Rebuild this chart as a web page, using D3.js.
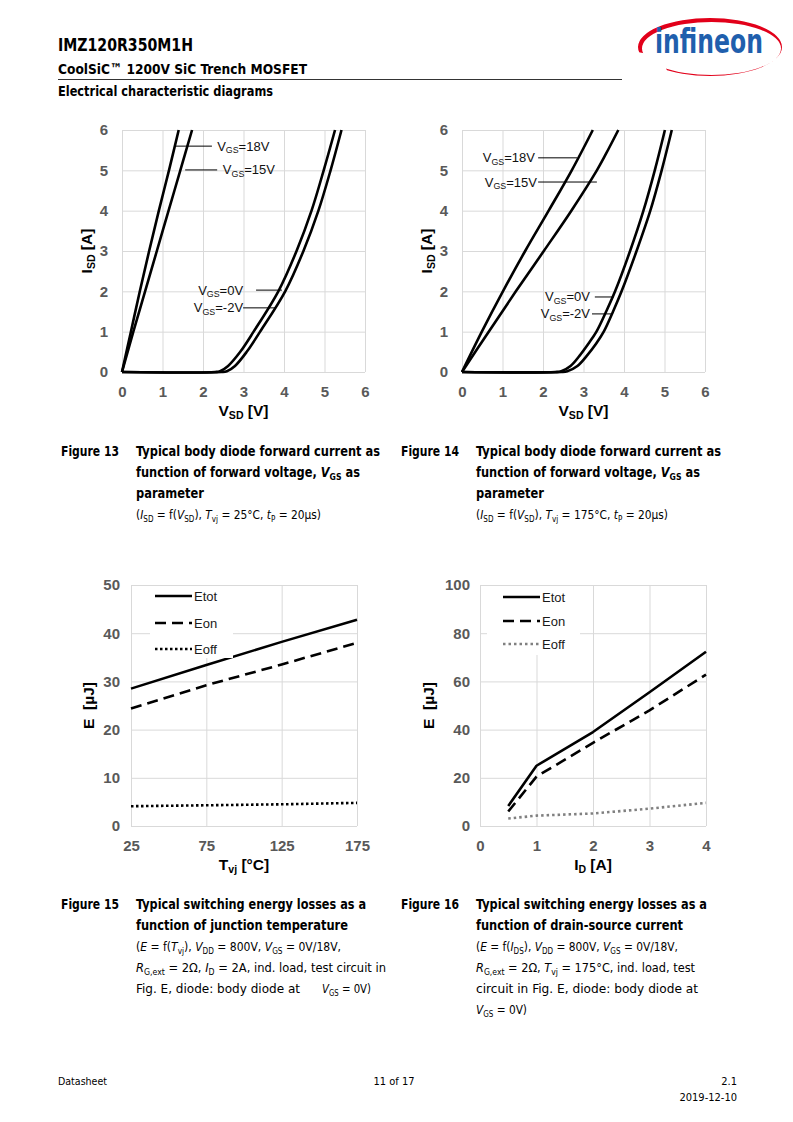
<!DOCTYPE html>
<html>
<head>
<meta charset="utf-8">
<script src="https://cdn.jsdelivr.net/npm/d3@7"></script>
<style>
body{margin:0;background:#fff}
svg{display:block}
text{white-space:pre}
</style>
</head>
<body>
<div id="page"></div>
<script>
// ---- data ----
// Figure 13 / 14 : I_SD vs V_SD, points are [V_SD, I_SD]
var vsdTicks = [0,1,2,3,4,5,6];
var isdTicks = [0,1,2,3,4,5,6];
var f13_vgs18 = [[0,0],[0.22,1],[0.44,2],[0.67,3],[0.91,4],[1.16,5],[1.4,6]];
var f13_vgs15 = [[0,0],[0.28,1],[0.57,2],[0.86,3],[1.15,4],[1.44,5],[1.73,6]];
var f13_vgs0  = [[0,0],[2.3,0],[2.42,0.02],[2.62,0.15],[2.92,0.5],[3.25,1],[3.86,2],[4.31,3],[4.68,4],[4.98,5],[5.26,6]];
var f13_vgsm2 = [[0,0],[2.45,0],[2.59,0.02],[2.79,0.15],[3.08,0.5],[3.41,1],[4.03,2],[4.48,3],[4.85,4],[5.15,5],[5.42,6]];
var f14_vgs18 = [[0,0],[0.49,1],[1.01,2],[1.56,3],[2.14,4],[2.71,5],[3.23,6]];
var f14_vgs15 = [[0,0],[0.66,1],[1.33,2],[2.02,3],[2.7,4],[3.33,5],[3.55,5.4],[3.86,6]];
var f14_vgs0  = [[0,0],[2.3,0],[2.45,0.02],[2.68,0.15],[2.9,0.4],[3.12,0.7],[3.32,1],[3.56,1.5],[3.78,2],[4.15,3],[4.48,4],[4.76,5],[5.01,6]];
var f14_vgsm2 = [[0,0],[2.45,0],[2.6,0.02],[2.85,0.15],[3.08,0.4],[3.31,0.7],[3.5,1],[3.73,1.5],[3.94,2],[4.31,3],[4.65,4],[4.93,5],[5.18,6]];

// Figure 15 : E vs Tvj
var tvjTicks = [25,75,125,175];
var e50Ticks = [0,10,20,30,40,50];
var tvj      = [25,75,125,175];
var f15_etot = [28.5,33.4,38.2,42.8];
var f15_eon  = [24.4,29.2,33.5,38.0];
var f15_eoff = [4.1,4.3,4.5,4.8];

// Figure 16 : E vs I_D
var idTicks   = [0,1,2,3,4];
var e100Ticks = [0,20,40,60,80,100];
var idVals   = [0.5,1,2,3,4];
var f16_etot = [8.3,25,39,55.5,72.3];
var f16_eon  = [6.0,20.5,34.5,48,62.8];
var f16_eoff = [3.1,4.3,5.2,7.2,9.6];

var vgsNames = ["V_{GS}=18V","V_{GS}=15V","V_{GS}=0V","V_{GS}=-2V"];
var lossNames = ["Etot","Eon","Eoff"];

// ---- page ----
var W = 793, H = 1122;
var svg = d3.select("#page").append("svg").attr("width",W).attr("height",H);
var capFont = "'Liberation Sans Narrow','DejaVu Sans Condensed','Noto Sans',sans-serif";
var chartFont = "'Liberation Sans',Arial,sans-serif";

// tiny markup: _{..} subscript, *..* italic
function rich(txt, str, size){
    var parts = str.split(/(_\{[^}]*\}|\*[^*]*\*)/).filter(function(s){return s.length;});
    var off = 0;
    parts.forEach(function(p){
        var sub = p.indexOf("_{")===0, it = p.charAt(0)==="*";
        var s = sub ? p.slice(2,-1) : (it ? p.slice(1,-1) : p);
        var target = sub ? size*0.22 : 0;
        var ts = txt.append("tspan").text(s);
        if(target-off !== 0) ts.attr("dy", target-off);
        off = target;
        if(sub) ts.attr("font-size", size*0.68);
        if(it) ts.attr("font-style","italic");
    });
    return txt;
}

function line(x, y, str, o){
    var t = svg.append("text").attr("x",x).attr("y",y)
        .attr("font-family",o.font||capFont)
        .attr("font-size",o.size)
        .attr("font-weight",o.bold?"bold":"normal")
        .attr("fill",o.fill||"#000");
    if(o.anchor) t.attr("text-anchor",o.anchor);
    rich(t, str, o.size);
    if(o.w) t.attr("textLength",o.w).attr("lengthAdjust","spacingAndGlyphs");
    return t;
}

// header
line(58,51,"IMZ120R350M1H",{size:17,bold:true,w:135});
line(58,74,"CoolSiC™ 1200V SiC Trench MOSFET",{size:14.5,bold:true,w:249});
svg.append("line").attr("x1",58).attr("x2",622).attr("y1",79.5).attr("y2",79.5)
    .attr("stroke","#000").attr("stroke-width",0.8);
line(58,96,"Electrical characteristic diagrams",{size:14,bold:true,w:215});

// logo
function ell(cx,cy,rx,ry){
    return "M"+(cx-rx)+","+cy+"a"+rx+","+ry+" 0 1,0 "+(2*rx)+",0a"+rx+","+ry+" 0 1,0 "+(-2*rx)+",0Z";
}
var defs = svg.append("defs");
defs.append("clipPath").attr("id","swclip").append("path")
    .attr("d","M625,5H790V90H675L661,56L625,50Z");
svg.append("path").attr("d",ell(710,47,72,29)+ell(711.5,48.5,69.5,26.5))
    .attr("fill","#e2001a").attr("fill-rule","evenodd").attr("clip-path","url(#swclip)");
svg.append("text").attr("x",655).attr("y",53).text("infineon")
    .attr("font-family",capFont).attr("font-weight","bold").attr("font-size",34)
    .attr("fill","#1f5fad").attr("textLength",108).attr("lengthAdjust","spacingAndGlyphs");

// ---- charts ----
function chart(o){
    var g = svg.append("g");
    var x = d3.scaleLinear().domain(o.xd).range([o.left,o.right]);
    var y = d3.scaleLinear().domain(o.yd).range([o.bottom,o.top]);
    var cid = "clip"+o.id;
    defs.append("clipPath").attr("id",cid).append("rect")
        .attr("x",o.left-2).attr("y",o.top-2)
        .attr("width",o.right-o.left+4).attr("height",o.bottom-o.top+4);

    var xa = g.append("g").attr("transform","translate(0,"+o.bottom+")")
        .call(d3.axisBottom(x).tickValues(o.xt).tickSize(-(o.bottom-o.top)).tickPadding(14.5).tickFormat(d3.format("d")));
    var ya = g.append("g").attr("transform","translate("+o.left+",0)")
        .call(d3.axisLeft(y).tickValues(o.yt).tickSize(-(o.right-o.left)).tickPadding(o.ypad).tickFormat(d3.format("d")));
    [xa,ya].forEach(function(a){
        a.select(".domain").remove();
        a.selectAll("line").attr("stroke","#d9d9d9").attr("stroke-width",1);
        a.selectAll("text").attr("fill","#595959").attr("font-size",15)
            .attr("font-weight","bold").attr("font-family",chartFont);
    });

    var ln = d3.line().x(function(d){return x(d[0]);}).y(function(d){return y(d[1]);})
        .curve(o.curve||d3.curveLinear);
    g.append("g").attr("clip-path","url(#"+cid+")")
        .selectAll("path").data(o.series).enter().append("path")
        .attr("d",function(s){return ln(s.pts);})
        .attr("fill","none")
        .attr("stroke",function(s){return s.color||"#000";})
        .attr("stroke-width",2.6)
        .attr("stroke-linejoin","round")
        .attr("stroke-dasharray",function(s){return s.dash||null;});

    // curve labels with leader lines
    (o.labels||[]).forEach(function(l){
        g.append("line").attr("x1",x(l.x0)).attr("x2",x(l.x1))
            .attr("y1",y(l.y)).attr("y2",y(l.y)).attr("stroke","#000").attr("stroke-width",1);
        var t = g.append("text").attr("x",x(l.tx)).attr("y",y(l.y)+4.5)
            .attr("font-family",chartFont).attr("font-size",13).attr("fill","#111")
            .attr("text-anchor",l.anchor);
        rich(t, l.t, 13);
    });

    // legend
    if(o.legend){
        var L = o.legend;
        g.append("rect").attr("x",o.left+L.bx0).attr("y",o.top+1)
            .attr("width",L.bx1-L.bx0).attr("height",L.bh).attr("fill","#fff");
        o.series.forEach(function(s,i){
            var yy = o.top+L.rows[i];
            g.append("line").attr("x1",o.left+L.lx0).attr("x2",o.left+L.lx1)
                .attr("y1",yy).attr("y2",yy).attr("stroke",s.color||"#000")
                .attr("stroke-width",2.6).attr("stroke-dasharray",s.dash||null);
            g.append("text").attr("x",o.left+L.lx1+2).attr("y",yy+4.5).text(s.name)
                .attr("font-family",chartFont).attr("font-size",13).attr("fill","#1a1a1a");
        });
    }

    // axis titles
    rich(g.append("text").attr("x",(o.left+o.right)/2).attr("y",o.bottom+44)
        .attr("text-anchor","middle").attr("font-family",chartFont).attr("font-size",15.5)
        .attr("font-weight","bold"), o.xtitle, 15.5);
    var cy = (o.top+o.bottom)/2;
    rich(g.append("text").attr("transform","translate("+(o.left-o.ytx)+","+cy+") rotate(-90)")
        .attr("text-anchor","middle").attr("font-family",chartFont).attr("font-size",15.5)
        .attr("font-weight","bold"), o.ytitle, 15.5);
}

function zip(xs, ys){ return xs.map(function(v,i){return [v, ys[i]];}); }
var smooth = d3.curveCatmullRom.alpha(0.5);

chart({id:13,left:122,right:365,top:130,bottom:372,xd:[0,6],yd:[0,6],xt:vsdTicks,yt:isdTicks,ypad:14,
    xtitle:"V_{SD} [V]", ytitle:"I_{SD} [A]", ytx:30, curve:smooth,
    series:[{pts:f13_vgs18},{pts:f13_vgs15},{pts:f13_vgs0},{pts:f13_vgsm2}],
    labels:[
        {t:vgsNames[0],x0:1.33,x1:2.22,y:5.60,tx:2.35,anchor:"start"},
        {t:vgsNames[1],x0:1.56,x1:2.35,y:5.01,tx:2.49,anchor:"start"},
        {t:vgsNames[2],x0:3.31,x1:3.95,y:2.03,tx:2.99,anchor:"end"},
        {t:vgsNames[3],x0:2.99,x1:3.78,y:1.59,tx:2.99,anchor:"end"}
    ]});

chart({id:14,left:462,right:705,top:130,bottom:372,xd:[0,6],yd:[0,6],xt:vsdTicks,yt:isdTicks,ypad:14,
    xtitle:"V_{SD} [V]", ytitle:"I_{SD} [A]", ytx:30.5, curve:smooth,
    series:[{pts:f14_vgs18},{pts:f14_vgs15},{pts:f14_vgs0},{pts:f14_vgsm2}],
    labels:[
        {t:vgsNames[0],x0:1.88,x1:2.84,y:5.31,tx:1.80,anchor:"end"},
        {t:vgsNames[1],x0:1.88,x1:3.33,y:4.71,tx:1.85,anchor:"end"},
        {t:vgsNames[2],x0:3.28,x1:3.75,y:1.86,tx:3.16,anchor:"end"},
        {t:vgsNames[3],x0:3.21,x1:3.70,y:1.44,tx:3.16,anchor:"end"}
    ]});

chart({id:15,left:131,right:357,top:585,bottom:826,xd:[25,175],yd:[0,50],xt:tvjTicks,yt:e50Ticks,ypad:11,
    xtitle:"T_{vj} [°C]", ytitle:"E  [µJ]", ytx:37.5,
    series:[{name:lossNames[0],pts:zip(tvj,f15_etot)},
            {name:lossNames[1],pts:zip(tvj,f15_eon),dash:"11,6"},
            {name:lossNames[2],pts:zip(tvj,f15_eoff),dash:"2.5,2.5"}],
    legend:{bx0:19,bx1:102,bh:72,lx0:24,lx1:61,rows:[11,38,64]}});

chart({id:16,left:480,right:706,top:585,bottom:826,xd:[0,4],yd:[0,100],xt:idTicks,yt:e100Ticks,ypad:10,
    xtitle:"I_{D} [A]", ytitle:"E  [µJ]", ytx:46.5,
    series:[{name:lossNames[0],pts:zip(idVals,f16_etot)},
            {name:lossNames[1],pts:zip(idVals,f16_eon),dash:"11,6"},
            {name:lossNames[2],pts:zip(idVals,f16_eoff),dash:"2.5,3",color:"#808080"}],
    legend:{bx0:7,bx1:100,bh:69,lx0:23,lx1:60,rows:[12,36,59]}});

// ---- captions ----
var captions = [
    {x:61,tx:136,y:456,num:"Figure 13",lines:[
        ["Typical body diode forward current as",1,244],
        ["function of forward voltage, *V*_{GS} as",1,224],
        ["parameter",1,68],
        ["(*I*_{SD} = f(*V*_{SD}), *T*_{vj} = 25°C, *t*_{P} = 20µs)",0,185]]},
    {x:401,tx:476,y:456,num:"Figure 14",lines:[
        ["Typical body diode forward current as",1,245],
        ["function of forward voltage, *V*_{GS} as",1,224],
        ["parameter",1,68],
        ["(*I*_{SD} = f(*V*_{SD}), *T*_{vj} = 175°C, *t*_{P} = 20µs)",0,192]]},
    {x:61,tx:136,y:909,num:"Figure 15",lines:[
        ["Typical switching energy losses as a",1,230],
        ["function of junction temperature",1,212],
        ["(*E* = f(*T*_{vj}), *V*_{DD} = 800V, *V*_{GS} = 0V/18V,",0,205],
        ["*R*_{G,ext} = 2Ω, *I*_{D} = 2A, ind. load, test circuit in",0,250],
        ["Fig. E, diode: body diode at",0,164]]},
    {x:401,tx:476,y:909,num:"Figure 16",lines:[
        ["Typical switching energy losses as a",1,231],
        ["function of drain-source current",1,207],
        ["(*E* = f(*I*_{DS}), *V*_{DD} = 800V, *V*_{GS} = 0V/18V,",0,202],
        ["*R*_{G,ext} = 2Ω, *T*_{vj} = 175°C, ind. load, test",0,219],
        ["circuit in Fig. E, diode: body diode at",0,222],
        ["*V*_{GS} = 0V)",0,51]]}
];
captions.forEach(function(c){
    line(c.x, c.y, c.num, {size:14,bold:true,w:58});
    c.lines.forEach(function(l,i){
        line(c.tx, c.y+i*21, l[0], {size:l[1]?14:13,bold:!!l[1],w:l[2]});
    });
});
line(322, 993, "*V*_{GS} = 0V)", {size:13,w:49});

// ---- footer ----
line(58,1085,"Datasheet",{size:11,w:49});
line(394,1085,"11 of 17",{size:11,anchor:"middle"});
line(737,1085,"2.1",{size:11,anchor:"end"});
line(737,1101,"2019-12-10",{size:11,anchor:"end"});
</script>
</body>
</html>
